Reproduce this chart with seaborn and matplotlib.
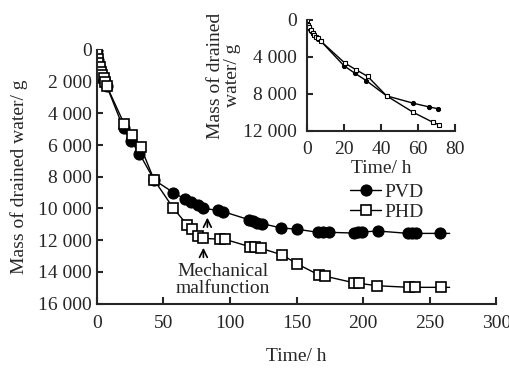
import matplotlib
matplotlib.use("Agg")
import matplotlib.pyplot as plt
from matplotlib.ticker import FuncFormatter
import seaborn as sns
import numpy as np

# ---- data ----
pvd_t = [0, 0.5, 1, 1.5, 2, 3, 4, 5, 6, 7.5, 20, 25.8, 32, 43, 57.5, 66, 71, 76, 80,
         91, 95, 114, 117, 120, 124, 138, 150.5, 166, 170, 174, 193, 196, 199, 211,
         234, 237, 240, 258, 265]
pvd_m = [0, 650, 850, 1000, 1200, 1450, 1650, 1850, 2050, 2300, 4950, 5750, 6550, 8200,
         9000, 9400, 9600, 9780, 9990, 10120, 10200, 10700, 10800, 10900, 10950, 11220,
         11310, 11500, 11500, 11500, 11550, 11500, 11480, 11420, 11570, 11570, 11570,
         11570, 11570]
phd_t = [0, 0.5, 1, 2, 3, 4, 5, 6, 7.5, 20.5, 26.3, 32.8, 43, 57.5, 67.9, 71.2, 76.2,
         80, 92.5, 96, 115, 118.8, 123.3, 139.3, 150.6, 167, 171, 193, 197, 210.8,
         234.8, 239, 258.4, 265]
phd_m = [0, 550, 800, 1100, 1400, 1600, 1800, 2000, 2300, 4670, 5360, 6100, 8200,
         9990, 11040, 11310, 11735, 11880, 11940, 11940, 12410, 12450, 12510, 12930,
         13500, 14200, 14260, 14680, 14720, 14870, 14970, 14970, 14970, 14970]

series_labels = ["PVD", "PHD"]
main_xticks = [0, 50, 100, 150, 200, 250, 300]
main_yticks = [0, 2000, 4000, 6000, 8000, 10000, 12000, 14000, 16000]
inset_xticks = [0, 20, 40, 60, 80]
inset_yticks = [0, 4000, 8000, 12000]
inset_tmax = 72

# ---- style ----
sns.set_style("ticks")
plt.rcParams["font.family"] = ["Liberation Serif", "DejaVu Serif"]
plt.rcParams["font.size"] = 14
plt.rcParams["axes.linewidth"] = 1.5
plt.rcParams["xtick.direction"] = "in"
plt.rcParams["ytick.direction"] = "in"
plt.rcParams["xtick.major.width"] = 1.5
plt.rcParams["ytick.major.width"] = 1.5
plt.rcParams["xtick.major.size"] = 5
plt.rcParams["ytick.major.size"] = 4.5

fmt = FuncFormatter(lambda v, p: f"{int(round(v)):,}".replace(",", " "))

fig = plt.figure(figsize=(5.10, 3.69), dpi=100)
ax = fig.add_axes([0.190, 0.177, 0.783, 0.688])

pvd_idx = list(range(len(pvd_t) - 1))
phd_idx = list(range(len(phd_t) - 1))

sns.lineplot(x=pvd_t, y=pvd_m, ax=ax, color="black", lw=1.0, marker="o", ms=8,
             mfc="black", mec="black", markevery=pvd_idx, sort=False,
             estimator=None, label=series_labels[0])
sns.lineplot(x=phd_t, y=phd_m, ax=ax, color="black", lw=1.0, marker="s", ms=7.5,
             mfc="white", mec="black", mew=1.2, markevery=phd_idx, sort=False,
             estimator=None, label=series_labels[1])

ax.set_xlim(0, 300)
ax.set_ylim(16000, 0)
ax.set_xticks(main_xticks)
ax.set_yticks(main_yticks)
ax.yaxis.set_major_formatter(fmt)
ax.tick_params(axis="x", labelsize=14, pad=8)
ax.tick_params(axis="y", labelsize=14, pad=3.5)
for s in ["top", "right"]:
    ax.spines[s].set_visible(False)
ax.set_xlabel("Time/ h", fontsize=14, labelpad=12)
ax.set_ylabel("Mass of drained water/ g", fontsize=14, labelpad=7)

leg = ax.legend(loc="upper left", bbox_to_anchor=(350 / 510, 1 - 183 / 369),
                bbox_transform=fig.transFigure, frameon=False, fontsize=14,
                handlelength=1.6, handletextpad=0.15, labelspacing=0.15,
                borderpad=0, borderaxespad=0)

# annotations
ax.annotate("", xy=(80, 12300), xytext=(80, 13250),
            arrowprops=dict(arrowstyle="->", lw=1.2, color="black"))
ax.annotate("", xy=(83, 10400), xytext=(83, 11350),
            arrowprops=dict(arrowstyle="->", lw=1.2, color="black"))
ax.text(94.5, 14500, "Mechanical\nmalfunction", ha="center", va="center",
        fontsize=14, linespacing=0.95)

# ---- inset ----
axi = fig.add_axes([0.602, 0.645, 0.290, 0.301])
pt = np.array(pvd_t); pm = np.array(pvd_m)
ht = np.array(phd_t); hm = np.array(phd_m)
sns.lineplot(x=pt[pt <= inset_tmax], y=pm[pt <= inset_tmax], ax=axi, color="black",
             lw=1.0, marker="o", ms=3, mfc="black", mec="black", sort=False,
             estimator=None, legend=False)
sns.lineplot(x=ht[ht <= inset_tmax], y=hm[ht <= inset_tmax], ax=axi, color="black",
             lw=1.0, marker="s", ms=3, mfc="white", mec="black", mew=0.8, sort=False,
             estimator=None, legend=False)
axi.set_xlim(0, 80)
axi.set_ylim(12000, 0)
axi.set_xticks(inset_xticks)
axi.set_yticks(inset_yticks)
axi.yaxis.set_major_formatter(fmt)
axi.tick_params(labelsize=14, pad=7)
for s in ["top", "right"]:
    axi.spines[s].set_visible(False)
axi.set_xlabel("Time/ h", fontsize=14, labelpad=2)
axi.set_ylabel("Mass of drained\nwater/ g", fontsize=14, labelpad=2, linespacing=0.95)

fig.savefig("out.png", dpi=100)
